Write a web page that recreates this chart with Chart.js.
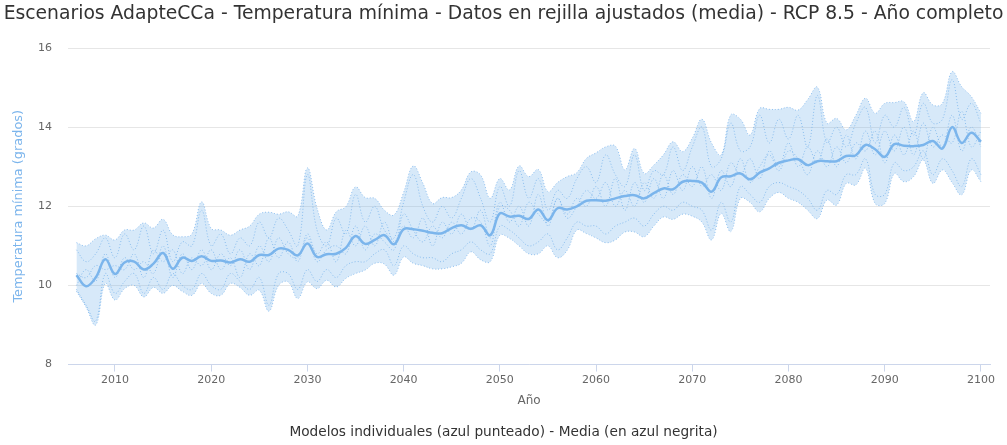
<!DOCTYPE html>
<html>
<head>
<meta charset="utf-8">
<script src="https://cdn.jsdelivr.net/npm/chart.js@4"></script>
<style>
  body { margin: 0; background: #fff; }
  #wrap { width: 1007px; height: 445px; }
</style>
</head>
<body>
<div id="wrap"><canvas id="tminChart" width="1007" height="445"></canvas></div>
<script>
// years 2006..2100
let years = [];
for (let y = 2006; y <= 2100; y++) years.push(y);
let xTicks = [2010, 2020, 2030, 2040, 2050, 2060, 2070, 2080, 2090, 2100];
let yTicks = [8, 10, 12, 14, 16];

// mean of the ensemble (bold line)
let mediaValues = [
  10.26, 9.98, 10.2, 10.66,
  10.29, 10.58, 10.6, 10.40, 10.55, 10.82, 10.42, 10.70, 10.62, 10.74,
  10.62, 10.63, 10.58, 10.66, 10.6, 10.77, 10.77, 10.93, 10.9, 10.76,
  11.06, 10.72, 10.79, 10.8, 10.95, 11.25, 11.05, 11.15, 11.27, 11.04,
  11.42, 11.42, 11.38, 11.33, 11.32, 11.45, 11.52, 11.43, 11.52, 11.27,
  11.82, 11.74, 11.76, 11.68, 11.92, 11.65, 11.95, 11.92, 12.0, 12.14,
  12.15, 12.14, 12.2, 12.26, 12.28, 12.2, 12.33, 12.45, 12.43, 12.62,
  12.64, 12.6, 12.37, 12.73, 12.76, 12.83, 12.68, 12.85, 12.96, 13.1,
  13.16, 13.19, 13.04, 13.14, 13.14, 13.14, 13.27, 13.29, 13.55, 13.44,
  13.25, 13.57, 13.53, 13.52, 13.55, 13.65, 13.46, 14.0, 13.6, 13.86,
  13.63
];

// upper edge of the model spread
let maxValues = [
  11.08, 11.0, 11.18, 11.27,
  11.15, 11.4, 11.4, 11.58, 11.45, 11.67, 11.28, 11.23, 11.3, 12.11,
  11.44, 11.4, 11.27, 11.4, 11.5, 11.8, 11.85, 11.8, 11.86, 11.75,
  12.97, 11.95, 11.4, 11.86, 11.99, 12.49, 12.22, 12.2, 11.9, 11.78,
  12.35, 13.02, 12.58, 12.07, 12.22, 12.22, 12.41, 12.87, 12.79, 12.2,
  12.7, 12.41, 13.02, 12.75, 12.93, 12.37, 12.6, 12.75, 12.85, 13.21,
  13.35, 13.5, 13.52, 12.92, 13.46, 12.83, 13.04, 13.3, 13.63, 13.38,
  13.72, 14.2, 13.6, 13.3, 14.31, 14.2, 13.8, 14.47, 14.45, 14.45,
  14.5, 14.43, 14.7, 15.01, 14.1, 14.22, 13.93, 14.3, 14.73, 14.35,
  14.6, 14.62, 14.64, 14.14, 14.87, 14.56, 14.6, 15.4, 15.02, 14.77,
  14.35
];

// lower edge of the model spread
let minValues = [
  9.85, 9.45, 9.0, 10.05,
  9.63, 9.92, 10.0, 9.71, 9.95, 9.8, 10.0, 9.85, 9.75, 10.05,
  9.8, 9.75, 10.05, 9.95, 9.75, 9.88, 9.35, 10.0, 10.09, 9.67,
  10.09, 9.92, 10.13, 9.96, 10.18, 10.3, 10.39, 10.56, 10.54, 10.26,
  10.72, 10.56, 10.5, 10.42, 10.42, 10.47, 10.56, 10.85, 10.65, 10.6,
  11.27, 11.19, 11.0, 10.8, 10.8, 11.0, 10.7, 10.89, 11.4, 11.31,
  11.2, 11.08, 11.15, 11.35, 11.35, 11.23, 11.5, 11.73, 11.67, 11.8,
  11.75, 11.6, 11.15, 11.82, 11.36, 12.2, 12.1, 11.86, 12.2, 12.35,
  12.2, 12.1, 11.9, 11.69, 12.16, 12.03, 12.58, 12.54, 12.96, 12.07,
  12.07, 12.83, 12.62, 12.75, 13.17, 12.58, 12.92, 12.6, 12.29, 12.92,
  12.62
];

// a few of the individual model runs (dotted)
let modelo1 = [
  10.9, 10.6, 10.8, 11.2,
  10.7, 11.3, 10.9, 11.5, 10.8, 11.4, 10.6, 11.1, 11.0, 11.9,
  11.0, 11.3, 10.8, 11.2, 11.0, 11.6, 11.2, 11.7, 11.4, 11.0,
  12.8, 11.4, 11.0, 11.7, 11.3, 12.3, 11.6, 12.0, 11.4, 11.2,
  12.1, 12.8, 12.0, 11.6, 12.0, 11.7, 12.2, 12.7, 12.2, 11.6,
  12.5, 12.0, 12.9, 12.2, 12.7, 11.9, 12.4, 12.2, 12.7, 13.0,
  12.6, 13.3, 12.8, 12.5, 13.3, 12.4, 12.9, 12.8, 13.5, 12.9,
  13.5, 14.0, 13.0, 13.2, 14.1, 13.4, 13.5, 14.3, 13.6, 14.2,
  13.7, 14.3, 13.5, 14.8, 13.6, 14.0, 13.5, 14.1, 14.5, 13.6,
  14.3, 14.0, 14.5, 13.8, 14.6, 14.1, 14.2, 15.2, 14.2, 14.6,
  14.1
];
let modelo2 = [
  9.9, 9.5, 9.1, 10.3,
  9.8, 10.1, 10.3, 9.8, 10.2, 9.9, 10.3, 10.0, 9.9, 10.3,
  10.0, 9.9, 10.3, 10.1, 9.9, 10.2, 9.5, 10.3, 10.3, 9.9,
  10.4, 10.1, 10.4, 10.2, 10.5, 10.6, 10.6, 10.8, 10.9, 10.5,
  11.0, 10.8, 10.7, 10.7, 10.6, 10.8, 10.9, 11.1, 10.9, 10.8,
  11.5, 11.4, 11.2, 11.0, 11.1, 11.3, 10.9, 11.2, 11.6, 11.5,
  11.5, 11.3, 11.5, 11.6, 11.7, 11.5, 11.8, 12.0, 11.9, 12.1,
  12.0, 11.9, 11.4, 12.1, 11.6, 12.5, 12.3, 12.1, 12.5, 12.6,
  12.5, 12.4, 12.2, 11.9, 12.4, 12.3, 12.8, 12.8, 13.2, 12.3,
  12.3, 13.1, 12.9, 13.0, 13.4, 12.8, 13.2, 12.9, 12.5, 13.2,
  12.8
];
let modelo3 = [
  10.3, 10.2, 10.5, 10.4,
  10.5, 10.4, 10.8, 10.2, 10.9, 10.6, 10.9, 10.3, 10.7, 10.5,
  10.9, 10.4, 10.7, 10.2, 10.8, 10.5, 11.2, 10.7, 11.1, 10.6,
  11.3, 10.8, 11.1, 10.6, 11.4, 11.0, 11.5, 11.0, 11.6, 11.1,
  11.5, 11.2, 11.7, 11.0, 11.6, 11.3, 11.8, 11.4, 11.9, 11.2,
  12.1, 11.6, 12.0, 11.5, 12.3, 11.5, 12.2, 11.8, 12.2, 12.0,
  12.5, 12.0, 12.7, 11.9, 12.6, 12.1, 12.7, 12.2, 12.9, 12.4,
  13.0, 12.5, 12.8, 12.4, 13.1, 12.8, 13.2, 12.7, 13.4, 13.0,
  13.6, 13.0, 13.5, 13.1, 13.7, 13.0, 13.8, 13.2, 13.9, 13.3,
  13.9, 13.4, 14.0, 13.3, 14.1, 13.5, 13.8, 13.6, 14.4, 13.5,
  13.9
];
let modelo4 = [
  10.0, 10.4, 10.1, 10.8,
  10.2, 10.7, 10.4, 10.6, 10.3, 11.0, 10.2, 10.8, 10.4, 10.9,
  10.4, 10.8, 10.5, 10.9, 10.4, 11.0, 10.6, 11.2, 10.8, 10.7,
  11.2, 10.6, 10.9, 11.0, 10.8, 11.5, 10.9, 11.3, 11.1, 10.9,
  11.8, 11.4, 11.1, 11.5, 11.2, 11.6, 11.3, 11.7, 11.6, 11.0,
  12.0, 11.9, 11.5, 12.1, 11.8, 11.6, 12.2, 11.7, 12.0, 12.4,
  12.2, 12.6, 12.0, 12.4, 12.0, 12.6, 12.2, 12.8, 12.3, 12.8,
  12.5, 13.0, 12.2, 12.9, 12.5, 13.2, 12.6, 13.0, 13.3, 12.9,
  13.4, 13.2, 12.8, 13.4, 13.0, 13.5, 13.1, 13.6, 13.4, 13.9,
  13.1, 13.8, 13.3, 13.9, 13.2, 14.0, 13.5, 14.3, 13.4, 14.0,
  13.5
];

let azul = "#7cb5ec";
let relleno = "rgba(124, 181, 236, 0.30)";
let punteado = "rgba(124, 181, 236, 0.85)";

function pts(vals) {
  return vals.map((v, i) => ({ x: years[i], y: v }));
}

function dotted(label, vals, extra) {
  return Object.assign({
    label: label,
    data: pts(vals),
    borderColor: punteado,
    borderWidth: 1,
    borderDash: [1, 2],
    pointRadius: 0,
    tension: 0.4,
    fill: false
  }, extra || {});
}

let datasets = [
  dotted("Máximo", maxValues, { fill: "+1", backgroundColor: relleno }),
  dotted("Mínimo", minValues),
  dotted("Modelo 1", modelo1),
  dotted("Modelo 2", modelo2),
  dotted("Modelo 3", modelo3),
  dotted("Modelo 4", modelo4),
  {
    label: "Media",
    data: pts(mediaValues),
    borderColor: azul,
    borderWidth: 2.5,
    pointRadius: 0,
    tension: 0.4,
    fill: false
  }
];

let font = "'DejaVu Sans', sans-serif";

let ctx = document.getElementById("tminChart").getContext("2d");
let tminChart = new Chart(ctx, {
  type: "line",
  data: { datasets: datasets },
  options: {
    responsive: false,
    animation: false,
    layout: { padding: 0 },
    plugins: {
      legend: { display: false },
      tooltip: { enabled: false },
      title: {
        display: true,
        text: "Escenarios AdapteCCa - Temperatura mínima - Datos en rejilla ajustados (media) - RCP 8.5 - Año completo",
        color: "#333333",
        font: { family: font, size: 18.75, weight: "normal" },
        padding: { top: 3, bottom: 22.5 }
      },
      subtitle: {
        display: true,
        position: "bottom",
        text: "Modelos individuales (azul punteado) - Media (en azul negrita)",
        color: "#333333",
        font: { family: font, size: 13.7, weight: "normal" },
        padding: { top: 12, bottom: 4 }
      }
    },
    scales: {
      x: {
        type: "linear",
        min: 2005.12,
        max: 2100.94,
        afterBuildTicks: (scale) => { scale.ticks = xTicks.map(v => ({ value: v })); },
        afterFit: (scale) => { scale.height = 48; },
        ticks: {
          color: "#666666",
          font: { family: font, size: 11 },
          padding: 2,
          maxRotation: 0,
          callback: (v) => String(v)
        },
        grid: { drawOnChartArea: false, drawTicks: true, tickLength: 7, color: "#ccd6eb" },
        border: { display: true, color: "#ccd6eb" },
        title: {
          display: true,
          text: "Año",
          color: "#666666",
          font: { family: font, size: 12 },
          padding: { top: 0, bottom: 4 }
        }
      },
      y: {
        min: 8,
        max: 16,
        afterBuildTicks: (scale) => { scale.ticks = yTicks.map(v => ({ value: v })); },
        afterFit: (scale) => { scale.width = 68; },
        ticks: {
          color: "#666666",
          font: { family: font, size: 11 },
          padding: 16
        },
        grid: { color: "#e6e6e6", drawTicks: false },
        border: { display: false },
        title: {
          display: true,
          text: "Temperatura mínima (grados)",
          color: azul,
          font: { family: font, size: 12.9 },
          padding: { top: 11, bottom: 0 }
        }
      },
      // empty right-hand strip so the plot stops short of the edge
      yRight: {
        position: "right",
        min: 8,
        max: 16,
        afterFit: (scale) => { scale.width = 17; },
        ticks: { display: false },
        grid: { display: false },
        border: { display: false }
      }
    }
  }
});
</script>
</body>
</html>
